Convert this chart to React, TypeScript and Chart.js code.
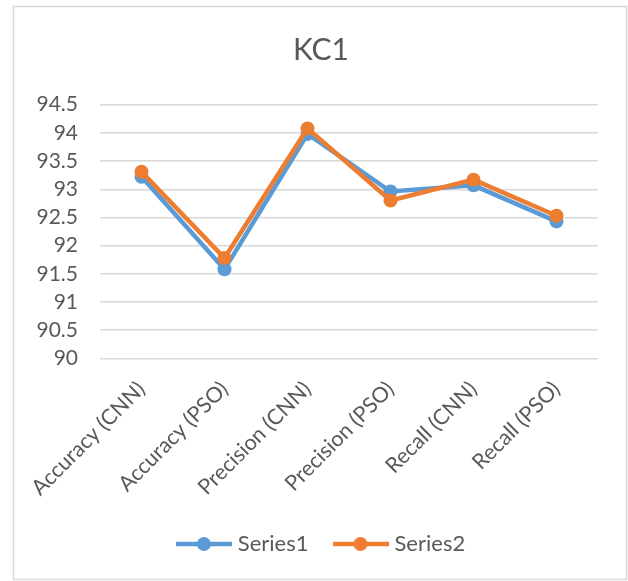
import React, { useEffect, useRef } from "react";
import { Chart, registerables } from "chart.js";

Chart.register(...registerables);

const categories = [
  "Accuracy (CNN)",
  "Accuracy (PSO)",
  "Precision (CNN)",
  "Precision (PSO)",
  "Recall (CNN)",
  "Recall (PSO)",
];
const series1 = [93.22, 91.58, 93.98, 92.96, 93.07, 92.43];
const series2 = [93.31, 91.78, 94.08, 92.8, 93.17, 92.53];
const seriesNames = ["Series1", "Series2"];
const seriesColors = ["#5B9BD5", "#ED7D31"];
const yMin = 90;
const yMax = 94.5;
const yStep = 0.5;
const title = "KC1";

const FONT = "Lato, 'DejaVu Sans', sans-serif";
const TEXT = "#595959";

function makeLegendImage(color: string) {
  const c = document.createElement("canvas");
  c.width = 56;
  c.height = 16;
  const ctx = c.getContext("2d")!;
  ctx.strokeStyle = color;
  ctx.lineWidth = 4.5;
  ctx.lineCap = "butt";
  ctx.beginPath();
  ctx.moveTo(0, 8);
  ctx.lineTo(56, 8);
  ctx.stroke();
  ctx.fillStyle = color;
  ctx.beginPath();
  ctx.arc(28, 8, 7, 0, Math.PI * 2);
  ctx.fill();
  return c;
}

const borderPlugin = {
  id: "outerBorder",
  beforeDraw(chart: any) {
    const ctx = chart.ctx;
    ctx.save();
    ctx.fillStyle = "#ffffff";
    ctx.fillRect(0, 0, chart.width, chart.height);
    ctx.strokeStyle = "#D9D9D9";
    ctx.lineWidth = 1.5;
    ctx.strokeRect(13.5, 6.5, 613, 573);
    ctx.restore();
  },
  afterLayout(chart: any) {
    if (chart.titleBlock) {
      chart.titleBlock.left += 5;
      chart.titleBlock.right += 5;
    }
    if (chart.legend) {
      chart.legend.left += 7;
      chart.legend.right += 7;
    }
  },
};

const LEFT_PAD = 34;

export default function App() {
  const ref = useRef<HTMLCanvasElement | null>(null);

  useEffect(() => {
    document.body.style.margin = "0";
    if (!ref.current) return;
    const imgs = seriesColors.map((c) => makeLegendImage(c));
    const chart = new Chart(ref.current, {
      type: "line",
      data: {
        labels: categories,
        datasets: [series1, series2].map((d, i) => ({
          label: seriesNames[i],
          data: d,
          borderColor: seriesColors[i],
          backgroundColor: seriesColors[i],
          borderWidth: 4.5,
          pointRadius: 7,
          pointHoverRadius: 7,
          pointBorderWidth: 0,
          pointBackgroundColor: seriesColors[i],
          tension: 0,
          order: i === 0 ? 1 : 0,
        })),
      },
      options: {
        animation: false,
        responsive: false,
        devicePixelRatio: 1,
        layout: { padding: { top: 32, right: 30, bottom: 16, left: LEFT_PAD } },
        plugins: {
          title: {
            display: true,
            text: title,
            color: TEXT,
            font: { family: FONT, size: 30, weight: "normal" },
            padding: { top: 0, bottom: 36.7 },
          },
          legend: {
            position: "bottom",
            labels: {
              usePointStyle: true,
              pointStyleWidth: 46,
              padding: 29,
              color: TEXT,
              font: { family: FONT, size: 22 },
              generateLabels: () =>
                seriesNames.map((n, i) => ({
                  text: n,
                  fillStyle: seriesColors[i],
                  strokeStyle: seriesColors[i],
                  lineWidth: 0,
                  pointStyle: imgs[i],
                  hidden: false,
                  datasetIndex: i,
                  fontColor: TEXT,
                })),
            },
          },
          tooltip: { enabled: false },
        },
        scales: {
          x: {
            type: "category",
            offset: true,
            grid: { display: false, drawTicks: false },
            border: { display: false },
            ticks: {
              color: TEXT,
              font: { family: FONT, size: 21.5 },
              maxRotation: 45,
              minRotation: 45,
              padding: 18,
              autoSkip: false,
            },
            afterFit: (s: any) => {
              s.height = 145.6;
            },
          },
          y: {
            min: yMin,
            max: yMax,
            grid: { color: "#D9D9D9", lineWidth: 1.5, drawTicks: false },
            border: { display: false },
            ticks: {
              stepSize: yStep,
              autoSkip: false,
              color: TEXT,
              font: { family: FONT, size: 21 },
              padding: 22,
              callback: (v: any) => String(Number(v)),
            },
            afterFit: (s: any) => {
              s.width = 100 - LEFT_PAD;
            },
          },
        },
      },
      plugins: [borderPlugin],
    } as any);
    return () => chart.destroy();
  }, []);

  return (
    <div style={{ width: 628, height: 581 }}>
      <canvas ref={ref} width={628} height={581} style={{ display: "block" }} />
    </div>
  );
}
